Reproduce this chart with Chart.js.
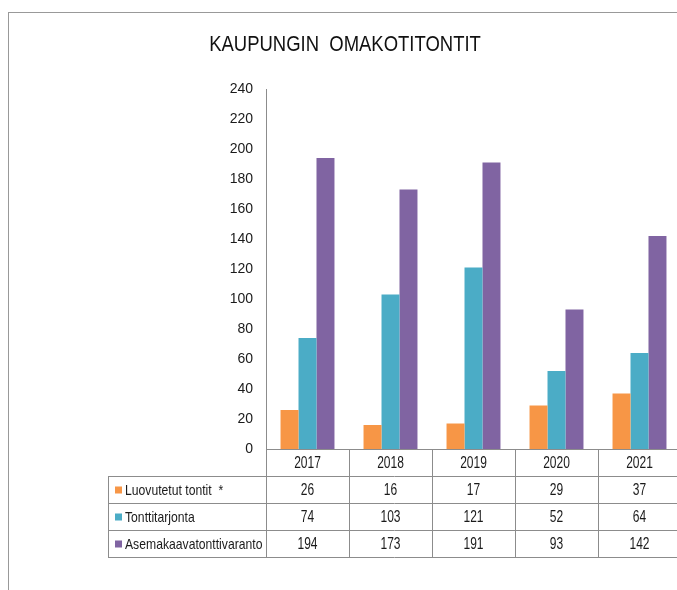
<!DOCTYPE html>
<html>
<head>
<meta charset="utf-8">
<script src="https://cdn.jsdelivr.net/npm/chart.js@4.4.1/dist/chart.umd.min.js"></script>
<style>
  html, body { margin: 0; padding: 0; background: #fff; }
  #wrap { position: relative; width: 677px; height: 590px; overflow: hidden; }
  #frame { position: absolute; left: 8px; top: 12px; width: 720px; height: 620px; border: 1px solid #999; }
  #chart { position: absolute; left: 0; top: 0; }
</style>
</head>
<body>
<div id="wrap">
  <div id="frame"></div>
  <canvas id="chart" width="700" height="590"></canvas>
</div>
<script>
const years = ['2017', '2018', '2019', '2020', '2021']
const luovutetut = [26, 16, 17, 29, 37]
const tarjonta = [74, 103, 121, 52, 64]
const varanto = [194, 173, 191, 93, 142]
const seriesNames = ['Luovutetut tontit  *', 'Tonttitarjonta', 'Asemakaavatonttivaranto']
const seriesColors = ['#F79646', '#4BACC6', '#8064A2']
const chartTitle = 'KAUPUNGIN  OMAKOTITONTIT'

const FONT = "'Liberation Sans', Arial, sans-serif"
const LINE = '#8c8c8c'
const TEXT = '#1a1a1a'
const ROW_H = 27

// Arial Narrow isn't around, so squeeze regular glyphs horizontally
function narrowText (ctx, text, x, y, size, squeeze, align) {
  ctx.save()
  ctx.font = size + 'px ' + FONT
  ctx.textAlign = align
  ctx.textBaseline = 'middle'
  ctx.translate(x, y)
  ctx.scale(squeeze, 1)
  ctx.fillText(text, 0, 0)
  ctx.restore()
}

const titleDraw = {
  id: 'titleDraw',
  afterDraw (chart) {
    const { ctx } = chart
    ctx.fillStyle = '#111'
    narrowText(ctx, chartTitle, 345, 45, 22, 0.84, 'center')
  }
}

// data table under the plot, columns follow the category scale
const dataTable = {
  id: 'dataTable',
  afterDraw (chart) {
    const { ctx, chartArea } = chart
    const x = chart.scales.x
    const n = years.length
    const colW = (x.right - x.left) / n
    const top = chartArea.bottom
    const labelLeft = x.left - 158
    const bottom = top + ROW_H * 4

    ctx.save()
    ctx.strokeStyle = LINE
    ctx.lineWidth = 1

    // horizontal rules
    ctx.beginPath()
    ctx.moveTo(x.left, top + 0.5)
    ctx.lineTo(x.right, top + 0.5)
    for (let r = 1; r <= 4; r++) {
      const y = Math.round(top + ROW_H * r) + 0.5
      ctx.moveTo(labelLeft, y)
      ctx.lineTo(x.right, y)
    }
    // vertical rules
    ctx.moveTo(labelLeft + 0.5, top + ROW_H)
    ctx.lineTo(labelLeft + 0.5, bottom)
    for (let i = 0; i <= n; i++) {
      const vx = Math.round(x.left + colW * i) + 0.5
      ctx.moveTo(vx, top)
      ctx.lineTo(vx, bottom)
    }
    ctx.stroke()

    ctx.fillStyle = TEXT
    years.forEach((yr, i) => {
      narrowText(ctx, yr, x.getPixelForValue(i), top + ROW_H / 2 + 1, 16, 0.75, 'center')
    })

    chart.data.datasets.forEach((ds, r) => {
      const cy = top + ROW_H * (r + 1) + ROW_H / 2 + 1
      ctx.fillStyle = TEXT
      ds.data.forEach((v, i) => {
        narrowText(ctx, String(v), x.getPixelForValue(i), cy, 16, 0.75, 'center')
      })
      ctx.fillStyle = ds.backgroundColor
      ctx.fillRect(labelLeft + 7, cy - 4, 7, 7)
      ctx.fillStyle = TEXT
      narrowText(ctx, ds.label, labelLeft + 17, cy, 14.5, 0.84, 'left')
    })
    ctx.restore()
  }
}

new Chart(document.getElementById('chart'), {
  type: 'bar',
  data: {
    labels: years,
    datasets: [
      { label: seriesNames[0], data: luovutetut, backgroundColor: seriesColors[0] },
      { label: seriesNames[1], data: tarjonta, backgroundColor: seriesColors[1] },
      { label: seriesNames[2], data: varanto, backgroundColor: seriesColors[2] }
    ]
  },
  options: {
    responsive: false,
    animation: false,
    datasets: {
      bar: { categoryPercentage: 0.65, barPercentage: 1 }
    },
    layout: { padding: { left: 0, right: 19, top: 89, bottom: 141 } },
    plugins: {
      legend: { display: false },
      tooltip: { enabled: false },
      title: { display: false }
    },
    scales: {
      x: {
        grid: { display: false, drawTicks: false },
        border: { display: true, color: LINE },
        ticks: { display: false },
        afterFit (s) { s.height = 0 }
      },
      y: {
        min: 0,
        max: 240,
        grid: { display: false, drawTicks: false },
        border: { display: true, color: LINE },
        ticks: {
          stepSize: 20,
          padding: 13,
          color: TEXT,
          font: { family: FONT, size: 14 }
        },
        afterFit (s) { s.width = 266 }
      }
    }
  },
  plugins: [titleDraw, dataTable]
})
</script>
</body>
</html>
